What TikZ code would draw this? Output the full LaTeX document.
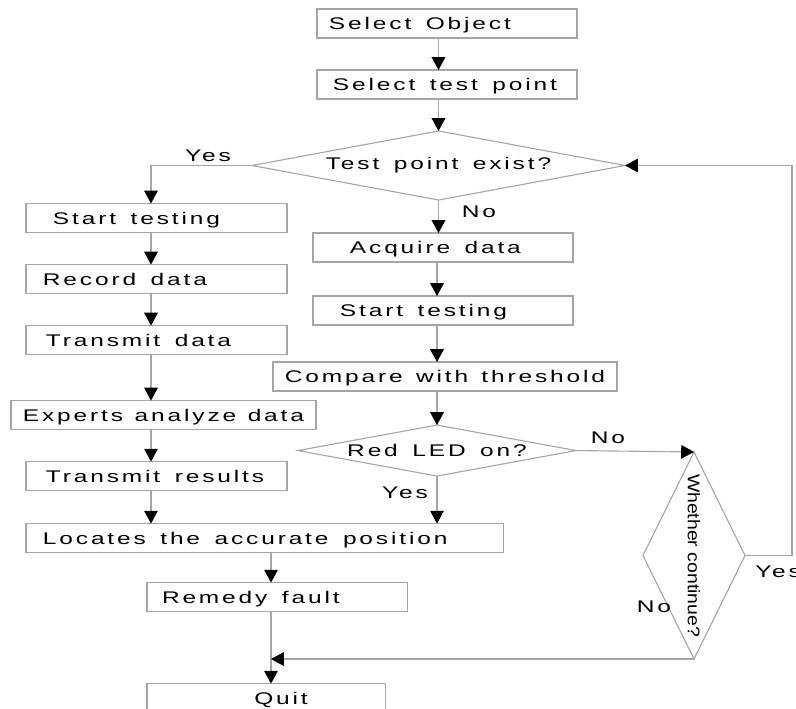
\documentclass[tikz,border=0pt]{standalone}
\usepackage{fontspec}
\setmainfont{Liberation Sans}
\newfontfamily\flowfont[FakeStretch=1.45,LetterSpace=17,WordSpace=1.5]{Liberation Sans}
\newfontfamily\turnfont[FakeStretch=1.15]{Liberation Sans}
\usepackage{tikz}
\usetikzlibrary{positioning, arrows.meta, shapes.geometric}
\definecolor{linegray}{RGB}{165,165,165}

\tikzset{
  box/.style={draw=linegray, line width=0.8pt, rectangle,
    execute at begin node={\hbox to #1\bgroup}, execute at end node={\hfil\egroup},
    inner xsep=0.3cm, inner ysep=0pt, outer sep=0pt, minimum height=0.725cm,
    text height=8.6pt, text depth=0pt, font=\flowfont\fontsize{12}{14}\selectfont},
  decision/.style={draw=linegray, line width=0.8pt, diamond, inner sep=0pt, outer sep=0pt,
    font=\flowfont\fontsize{12}{14}\selectfont},
  flow/.style={draw=linegray, line width=0.8pt, -{Triangle[width=0.34cm,length=0.32cm,color=black]}},
  answer/.style={inner sep=0pt, text height=8.6pt, text depth=0pt,
    font=\flowfont\fontsize{12}{14}\selectfont}
}

\begin{document}
\begin{tikzpicture}[x=0.025cm, y=-0.025cm]
  \useasboundingbox (0,0) rectangle (796,709);

  % main column
  \node[box=5.9cm] (obj) at (447,23.5) {Select Object};
  \node[box=5.9cm] (pt) [below=0.8cm of obj] {\hspace*{0.1cm}Select test point};
  \node[decision, shape aspect=5.4, minimum width=9.325cm, minimum height=1.725cm] (exist) at (438.5,165.5) {Test point exist?};

  % left branch
  \node[box=5.925cm] (test1) at (156.5,218) {\hspace*{0.375cm}Start testing};
  \node[box=5.925cm] (rec) [below=0.8cm of test1] {\hspace*{0.125cm}Record data};
  \node[box=5.925cm] (trd) [below=0.8cm of rec] {\hspace*{0.2cm}Transmit data};
  \node[box=7.025cm] (exp) [below=1.15cm of trd, xshift=0.175cm] {Experts analyze data};
  \node[box=5.925cm] (trr) [below=0.8cm of exp, xshift=-0.175cm] {\hspace*{0.2cm}Transmit results};
  \node[box=11.325cm] (loc) [below=0.825cm of trr.south west, anchor=north west] {\hspace*{0.125cm}Locates the accurate position};
  \node[box=5.9cm] (rem) [below=0.75cm of loc.south west, anchor=north west, xshift=3.025cm] {\hspace*{0.075cm}Remedy fault};
  \node[box=5.35cm] (quit) [below=1.8cm of rem.south west, anchor=north west] {\hfil\hspace*{0.75cm}Quit};

  % right branch
  \node[box=5.9cm] (acq) at (443,247.5) {\hspace*{0.625cm}Acquire data};
  \node[box=5.9cm] (test2) [below=0.85cm of acq] {\hspace*{0.375cm}Start testing};
  \node[box=8cm] (cmp) [below=0.925cm of test2, xshift=0.05cm] {Compare with threshold};
  \node[decision, shape aspect=5.45, minimum width=6.95cm, minimum height=1.275cm] (red) [below=0.85cm of cmp, xshift=-0.2cm] {Red LED on?};
  \node[decision, shape aspect=0.49, minimum width=2.55cm, minimum height=5.175cm] (wc) at (694,555.5) {\rotatebox{-90}{\turnfont Whether continue?}};

  \coordinate (lx) at (151,0);
  \coordinate (mx) at (271,0);
  \coordinate (rx) at (792,0);

  \draw[flow] (obj.south -| exist.north) -- (pt.north -| exist.north);
  \draw[flow] (pt.south -| exist.north) -- (exist.north);
  \draw[flow] (exist.west) -| (lx |- test1.north);
  \draw[flow] (lx |- test1.south) -- (lx |- rec.north);
  \draw[flow] (lx |- rec.south) -- (lx |- trd.north);
  \draw[flow] (lx |- trd.south) -- (lx |- exp.north);
  \draw[flow] (lx |- exp.south) -- (lx |- trr.north);
  \draw[flow] (lx |- trr.south) -- (lx |- loc.north);
  \draw[flow] (mx |- loc.south) -- (mx |- rem.north);
  \draw[flow] (mx |- rem.south) -- (mx |- quit.north);
  \draw[flow] (exist.south) -- (exist.south |- acq.north);
  \draw[flow] (acq.south -| red.north) -- (red.north |- test2.north);
  \draw[flow] (test2.south -| red.north) -- (red.north |- cmp.north);
  \draw[flow] (cmp.south -| red.north) -- (red.north);
  \draw[flow] (red.east) -- (wc.north);
  \draw[flow] (red.south) -- (red.south |- loc.north);
  \draw[flow] (wc.east) -- (wc.east -| rx) |- (exist.east);
  \draw[flow] (wc.south) -- (wc.south -| mx);

  \node[answer] (yes1) at (208,155) {Yes};
  \node[answer] (no1) at (479,211) {No};
  \node[answer] (no2) at (608,437) {No};
  \node[answer] (yes2) at (405,492) {Yes};
  \node[answer, anchor=west] (yes3) at (755,571) {Yes};
  \node[answer] (no3) at (654,606) {No};
\end{tikzpicture}
\end{document}
